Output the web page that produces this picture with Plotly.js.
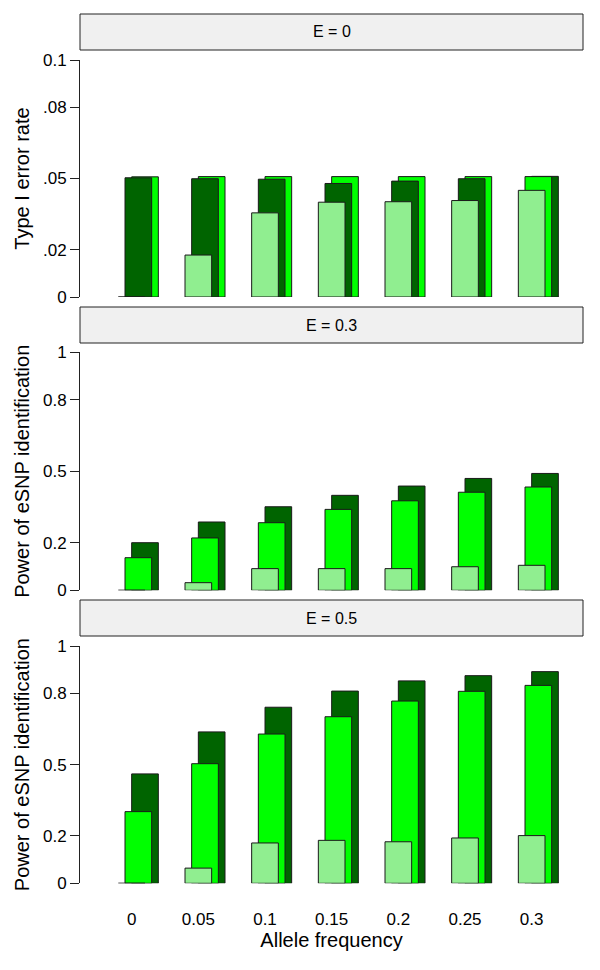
<!DOCTYPE html>
<html>
<head>
<meta charset="utf-8">
<script src="https://cdn.plot.ly/plotly-3.0.1.min.js"></script>
<style>html,body{margin:0;padding:0;background:#fff;}#chart{width:600px;height:970px;}</style>
</head>
<body>
<div id="chart"></div>
<script>
// ---- data ----
const alleleFreq = ['0', '0.05', '0.1', '0.15', '0.2', '0.25', '0.3'];
const panelLabels = ['E = 0', 'E = 0.3', 'E = 0.5'];
const yTitles = ['Type I error rate', 'Power of eSNP identification', 'Power of eSNP identification'];

// E = 0 (Type I error rate)
const e0Light  = [0, 0.0177, 0.0355, 0.0400, 0.0402, 0.0407, 0.0450];
const e0Bright = [0.0507, 0.0508, 0.0508, 0.0508, 0.0508, 0.0508, 0.0508];
const e0Dark   = [0.0503, 0.0499, 0.0497, 0.0479, 0.0489, 0.0499, 0.0509];

// E = 0.3 (power)
const e3Light  = [0, 0.032, 0.091, 0.091, 0.091, 0.099, 0.105];
const e3Bright = [0.137, 0.220, 0.284, 0.340, 0.376, 0.412, 0.434];
const e3Dark   = [0.200, 0.287, 0.351, 0.399, 0.438, 0.470, 0.491];

// E = 0.5 (power)
const e5Light  = [0, 0.064, 0.170, 0.181, 0.175, 0.191, 0.201];
const e5Bright = [0.302, 0.504, 0.629, 0.702, 0.768, 0.809, 0.834];
const e5Dark   = [0.461, 0.638, 0.742, 0.810, 0.853, 0.875, 0.892];

const yTickVals = [[0, 0.02, 0.05, 0.08, 0.1], [0, 0.2, 0.5, 0.8, 1], [0, 0.2, 0.5, 0.8, 1]];
const yTickText = [['0', '.02', '.05', '.08', '0.1'], ['0', '0.2', '0.5', '0.8', '1'], ['0', '0.2', '0.5', '0.8', '1']];
const yMax = [0.1, 1, 1];

// ---- style ----
const LIGHT = '#90EE90', BRIGHT = '#00FF00', DARK = '#006400';
const EDGE = '#1a1a1a';
const FONT = 'Liberation Sans, Arial, Helvetica, sans-serif';
const H = 970;
const p = (px) => 1 - px / H;

// pixel geometry of panels: [plot top, plot bottom, strip top, strip bottom]
const geom = [[60, 297, 14, 50], [352.3, 590.3, 307, 343], [646, 883.3, 600, 636]];

const panels = [[e0Light, e0Bright, e0Dark], [e3Light, e3Bright, e3Dark], [e5Light, e5Bright, e5Dark]];
const xIdx = alleleFreq.map((_, i) => i);

const traces = [];
const layout = {
  width: 600, height: 970,
  margin: {l: 80, r: 17, t: 0, b: 0, pad: 0},
  paper_bgcolor: '#ffffff', plot_bgcolor: '#ffffff',
  barmode: 'overlay', showlegend: false,
  font: {family: FONT, color: '#000', size: 17},
  shapes: [], annotations: []
};

panels.forEach((vals, k) => {
  const [light, bright, dark] = vals;
  const sfx = k === 0 ? '' : String(k + 1);
  const xa = 'x' + sfx, ya = 'y' + sfx;
  // taller of bright/dark sits behind (right), shorter one in the middle
  const backY = [], backC = [], midY = [], midC = [];
  for (let i = 0; i < xIdx.length; i++) {
    if (dark[i] >= bright[i]) { backY.push(dark[i]); backC.push(DARK); midY.push(bright[i]); midC.push(BRIGHT); }
    else { backY.push(bright[i]); backC.push(BRIGHT); midY.push(dark[i]); midC.push(DARK); }
  }
  const common = {type: 'bar', xaxis: xa, yaxis: ya, width: 0.4, hoverinfo: 'skip'};
  traces.push(Object.assign({}, common, {x: xIdx, y: backY, offset: 0, marker: {color: backC, line: {color: EDGE, width: 1}}}));
  traces.push(Object.assign({}, common, {x: xIdx, y: midY, offset: -0.1, marker: {color: midC, line: {color: EDGE, width: 1}}}));
  traces.push(Object.assign({}, common, {x: xIdx, y: light, offset: -0.2, marker: {color: LIGHT, line: {color: EDGE, width: 1}}}));

  const g = geom[k];
  layout['xaxis' + sfx] = {
    domain: [0, 1], anchor: ya, range: [-0.775, 6.77],
    showgrid: false, zeroline: false, showline: false,
    tickmode: 'array', tickvals: xIdx, ticktext: alleleFreq,
    showticklabels: k === 2, ticks: k === 2 ? 'outside' : '', ticklen: 20, tickcolor: 'rgba(0,0,0,0)',
    tickfont: {size: 17, family: FONT},
    title: k === 2 ? {text: 'Allele frequency', font: {size: 20, family: FONT}, standoff: 1} : {text: ''},
    automargin: false, fixedrange: true
  };
  if (k > 0) layout['xaxis' + sfx].matches = 'x';
  layout['yaxis' + sfx] = {
    domain: [p(g[1]), p(g[0])], anchor: xa, range: [0, yMax[k]],
    showgrid: false, zeroline: false, showline: true, linecolor: '#222', linewidth: 1,
    ticks: 'outside', ticklen: 9, tickcolor: '#222', tickwidth: 1,
    tickmode: 'array', tickvals: yTickVals[k], ticktext: yTickText[k],
    tickfont: {size: 17, family: FONT},
    title: {text: yTitles[k], font: {size: 20, family: FONT}, standoff: 7},
    automargin: false, fixedrange: true
  };
  layout.shapes.push({type: 'rect', xref: 'paper', yref: 'paper', x0: 0, x1: 1, y0: p(g[3]), y1: p(g[2]),
    fillcolor: '#f0f0f0', line: {color: '#222', width: 1}, layer: 'below'});
  layout.annotations.push({xref: 'paper', yref: 'paper', x: 0.5, y: (p(g[3]) + p(g[2])) / 2,
    text: panelLabels[k], showarrow: false, xanchor: 'center', yanchor: 'middle',
    font: {size: 16, family: FONT, color: '#000'}});
});

Plotly.newPlot('chart', traces, layout, {staticPlot: true, displayModeBar: false});
</script>
</body>
</html>
